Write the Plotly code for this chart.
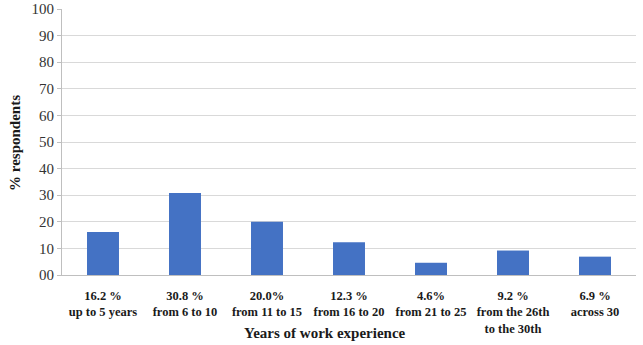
import plotly.graph_objects as go

categories = ["up to 5 years", "from 6 to 10", "from 11 to 15", "from 16 to 20",
              "from 21 to 25", "from the 26th to the 30th", "across 30"]
values = [16.2, 30.8, 20.0, 12.3, 4.6, 9.2, 6.9]
tick_labels = ["16.2 %<br>up to 5 years", "30.8 %<br>from 6 to 10", "20.0%<br>from 11 to 15",
               "12.3 %<br>from 16 to 20", "4.6%<br>from 21 to 25",
               "9.2 %<br>from the 26th<br>to the 30th", "6.9 %<br>across 30"]
y_ticks = [0, 10, 20, 30, 40, 50, 60, 70, 80, 90, 100]
y_tick_text = ["00", "10", "20", "30", "40", "50", "60", "70", "80", "90", "100"]

SERIF = "'Liberation Serif', 'DejaVu Serif', serif"

fig = go.Figure(go.Bar(x=categories, y=values, marker_color="#4472C4", marker_line_width=0))

fig.update_layout(
    width=643, height=345,
    margin=dict(l=62, r=7, t=9, b=70, autoexpand=False),
    paper_bgcolor="white", plot_bgcolor="white",
    bargap=0.61,
    showlegend=False,
    font=dict(family=SERIF, color="#1a1a1a"),
)
fig.update_xaxes(
    tickvals=categories, ticktext=["<b>" + t + "</b>" for t in tick_labels],
    tickfont=dict(size=12.5, family=SERIF, color="#1a1a1a"),
    showline=True, linecolor="#bfbfbf", linewidth=1, ticks="", tickangle=0,
    ticklabelstandoff=9,
    showgrid=False, automargin=False,
)
fig.update_yaxes(
    range=[0, 100], tickvals=y_ticks, ticktext=y_tick_text,
    tickfont=dict(size=15, family=SERIF, color="#333333"),
    showline=True, linecolor="#bfbfbf", linewidth=1,
    ticks="outside", ticklen=4, tickcolor="#bfbfbf",
    showgrid=True, gridcolor="#d9d9d9", gridwidth=1, zeroline=False, automargin=False,
)
fig.add_annotation(text="<b>Years of work experience</b>", xref="paper", yref="paper",
                   x=(325 - 62) / 574, y=-58 / 266, xanchor="center", yanchor="middle",
                   showarrow=False, font=dict(size=15, family=SERIF, color="#1a1a1a"))
fig.add_annotation(text="<b>% respondents</b>", xref="paper", yref="paper",
                   x=-47 / 574, y=(275 - 143) / 266, xanchor="center", yanchor="middle",
                   textangle=-90, showarrow=False,
                   font=dict(size=15, family=SERIF, color="#1a1a1a"))

fig.write_html("out.html", config={"displayModeBar": False},
               post_script="document.body.style.margin='0';")
